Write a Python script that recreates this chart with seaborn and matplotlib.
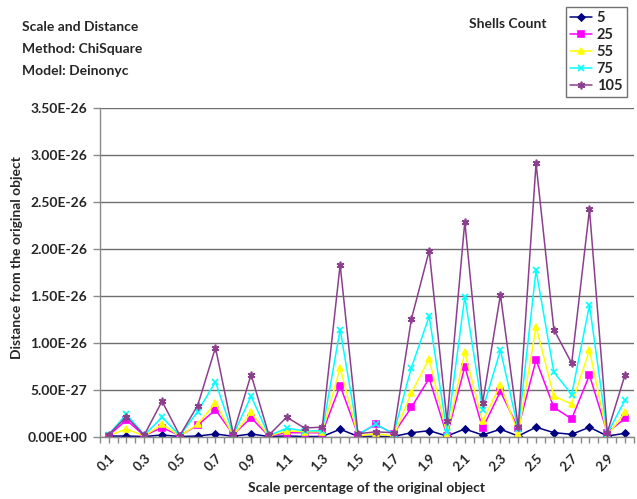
import numpy as np
import pandas as pd
import matplotlib
matplotlib.use("Agg")
import matplotlib.pyplot as plt
from matplotlib.lines import Line2D
from matplotlib.ticker import FuncFormatter, MultipleLocator, FixedLocator
import seaborn as sns

# Scale factors applied to the model (0.1 .. 3.0)
scale = [round(0.1 * k, 1) for k in range(1, 31)]

# Distance values, in units of 1e-27
UNIT = 1e-27
shells_5 = [0.05, 0.05, 0.0, 0.16, 0.0, 0.05, 0.27, 0.02, 0.27, 0.0,
            0.05, 0.0, 0.0, 0.77, 0.02, 0.0, 0.0, 0.4, 0.62, 0.05,
            0.8, 0.16, 0.77, 0.05, 0.99, 0.41, 0.23, 0.99, 0.05, 0.34]
shells_25 = [0.1, 1.75, 0.1, 0.95, 0.1, 1.2, 2.85, 0.2, 2.0, 0.05,
             0.4, 0.4, 0.4, 5.43, 0.2, 1.3, 0.3, 3.1, 6.2, 0.1,
             7.44, 0.88, 4.8, 0.9, 8.15, 3.1, 1.88, 6.54, 0.4, 1.95]
shells_55 = [0.1, 0.8, 0.05, 1.3, 0.05, 1.3, 3.57, 0.1, 2.56, 0.05,
             0.6, 0.5, 0.5, 7.33, 0.05, 0.3, 0.05, 4.64, 8.3, 0.2,
             8.95, 1.6, 5.5, 0.3, 11.7, 4.3, 3.46, 9.2, 0.1, 2.56]
shells_75 = [0.2, 2.4, 0.15, 2.05, 0.1, 2.65, 5.83, 0.2, 4.28, 0.1,
             0.88, 0.6, 0.6, 11.4, 0.2, 1.3, 0.3, 7.33, 12.8, 0.5,
             14.9, 2.85, 9.2, 0.8, 17.7, 6.86, 4.46, 14.0, 0.3, 3.9]
shells_105 = [0.2, 2.1, 0.15, 3.76, 0.1, 3.3, 9.48, 0.3, 6.6, 0.15,
              2.06, 0.9, 1.0, 18.3, 0.3, 0.5, 0.4, 12.5, 19.8, 1.6,
              22.9, 3.57, 15.1, 1.0, 29.1, 11.4, 7.8, 24.2, 0.4, 6.6]

series_names = ["5", "25", "55", "75", "105"]
series_values = [shells_5, shells_25, shells_55, shells_75, shells_105]
colors = ["#000080", "#FF00FF", "#FFFF00", "#00FFFF", "#8c3f8c"]
markers = ["D", "s", "^", "x", (6, 2, 0)]
msizes = [3.5, 4.5, 4.5, 5, 5.5]

tick_labels = [f"{v:.1f}" for v in scale[::2]]

header_lines = ["Scale and Distance", "Method: ChiSquare", "Model: Deinonyc"]

sns.set_style("white")
plt.rcParams["font.family"] = ["Lato", "DejaVu Sans"]
plt.rcParams["font.weight"] = "bold"

W, H = 637, 499
fig = plt.figure(figsize=(W / 100, H / 100), dpi=100)
ax = fig.add_axes([99.7 / W, 1 - 436.5 / H, (634 - 99.7) / W, (436.5 - 108) / H])

handles = []
for name, vals, c, m, ms in zip(series_names, series_values, colors, markers, msizes):
    df = pd.DataFrame({"scale": scale, "distance": np.array(vals) * UNIT})
    sns.lineplot(data=df, x="scale", y="distance", ax=ax, color=c, marker=m,
                 markersize=ms, markeredgecolor=c, markeredgewidth=1.2,
                 linewidth=1.1, sort=False, errorbar=None, legend=False)
    handles.append(Line2D([0], [0], color=c, marker=m, markersize=ms,
                          markeredgecolor=c, markeredgewidth=1.2, linewidth=1.1))

# y axis
ax.set_ylim(0, 3.5e-26)
ax.yaxis.set_major_locator(MultipleLocator(5e-27))
ax.yaxis.set_major_formatter(FuncFormatter(lambda v, p: f"{v:.2E}"))
ax.yaxis.grid(True, color="#6e6e6e", linewidth=1.0)
ax.set_axisbelow(True)

# x axis
ax.set_xlim(0.05, 3.05)
ax.xaxis.set_major_locator(FixedLocator(scale[::2]))
ax.set_xticklabels(tick_labels)
ax.xaxis.set_minor_locator(MultipleLocator(0.05))
for lab in ax.get_xticklabels():
    lab.set_rotation(45)
    lab.set_ha("right")
    lab.set_rotation_mode("anchor")

for s in ["top", "right"]:
    ax.spines[s].set_visible(False)
for s in ["left", "bottom"]:
    ax.spines[s].set_color("#8a8a8a")
    ax.spines[s].set_linewidth(1.0)

ax.tick_params(axis="y", which="major", left=True, length=5, width=1.0,
               color="#8a8a8a", labelsize=10, pad=4)
ax.tick_params(axis="x", which="both", bottom=True, length=4, width=1.0,
               color="#8a8a8a", direction="out")
ax.tick_params(axis="x", which="major", labelsize=9.5, pad=7)

ax.set_xlabel("")
ax.set_ylabel("")
fig.text(367 / W, 1 - 488 / H, "Scale percentage of the original object",
         ha="center", va="center", fontsize=10, fontweight="bold")
fig.text(17 / W, 1 - 258 / H, "Distance from the original object",
         ha="center", va="center", rotation=90, fontsize=10, fontweight="bold")

# header block, one line per text, placed on baselines
for line, base_y in zip(header_lines, [31, 53, 75]):
    fig.text(22 / W, 1 - base_y / H, line, ha="left", va="baseline",
             fontsize=10, fontweight="bold")
fig.text(469 / W, 1 - 27.5 / H, "Shells Count", ha="left", va="baseline",
         fontsize=10, fontweight="bold")

leg = fig.legend(handles, series_names, loc="upper left",
                 bbox_to_anchor=(566 / W, 1 - 7 / H), frameon=True,
                 fancybox=False, edgecolor="#4d4d4d", fontsize=10.5,
                 handlelength=1.5, handletextpad=0.3, labelspacing=0.2,
                 borderpad=0.3, borderaxespad=0)
leg.get_frame().set_linewidth(1.0)
for t in leg.get_texts():
    t.set_fontweight("bold")

fig.savefig("out.png", dpi=100, facecolor="white")
